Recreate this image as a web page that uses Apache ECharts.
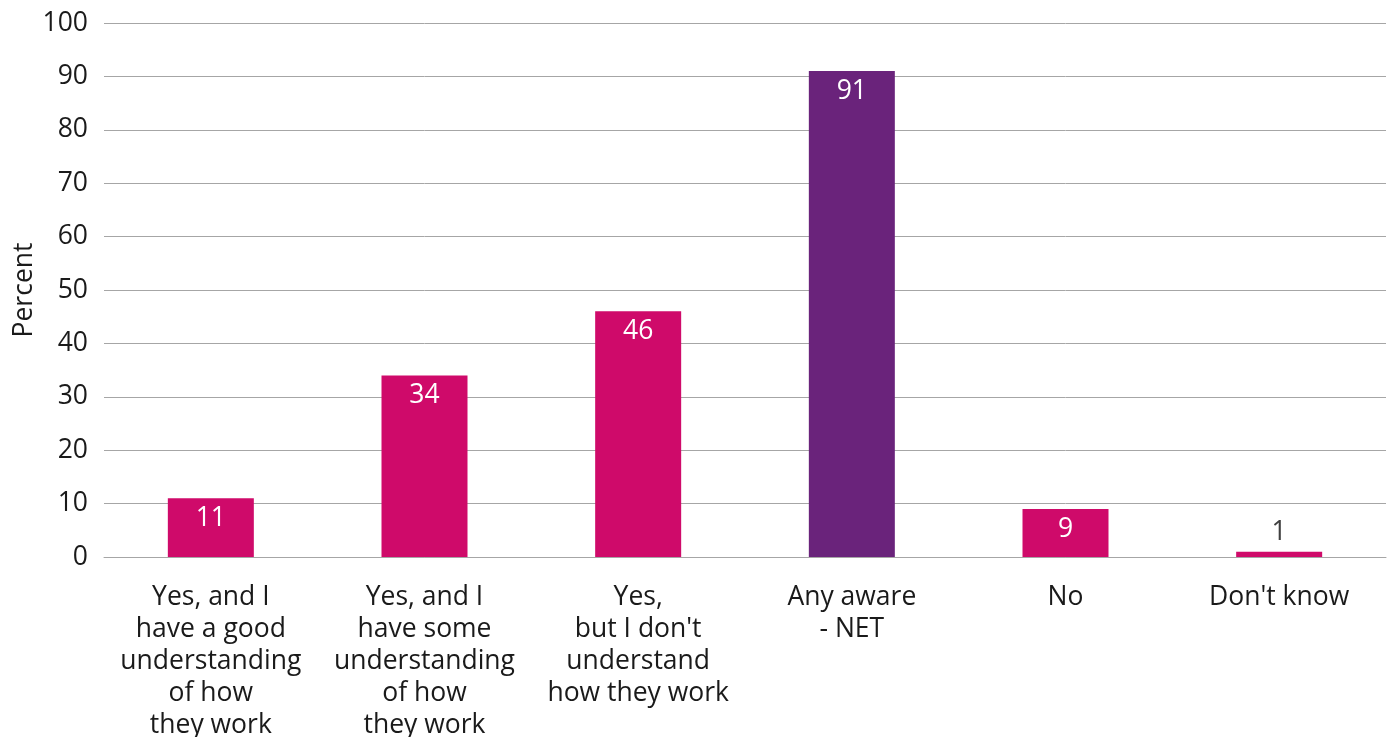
<!DOCTYPE html>
<html><head><meta charset="utf-8">
<script src="https://cdn.jsdelivr.net/npm/echarts@6/dist/echarts.min.js"></script>
<style>html,body{margin:0;padding:0;background:#fff}#c{width:1394px;height:737px}</style>
</head><body><div id="c"></div>
<script>
const categories = ["Yes, and I\nhave a good\nunderstanding\nof how\nthey work","Yes, and I\nhave some\nunderstanding\nof how\nthey work","Yes,\nbut I don't\nunderstand\nhow they work","Any aware\n- NET","No","Don't know"];
const values = [11, 34, 46, 91, 9, 1];
const barColors = ["#CF0A6A","#CF0A6A","#CF0A6A","#6A237B","#CF0A6A","#CF0A6A"];
const yTicks = {min:0, max:100, interval:10};
const FONT = "'Open Sans', 'Noto Sans', sans-serif";
const chart = echarts.init(document.getElementById('c'));
chart.setOption({
  animation:false,
  grid:{left:104,right:8,top:23,bottom:180,containLabel:false,outerBoundsMode:'none'},
  xAxis:{type:'category',data:categories,
    axisLine:{lineStyle:{color:'#a6a6a6',width:1}},axisTick:{show:false},
    axisLabel:{color:'#1a1a1a',fontSize:26.5,fontFamily:FONT,lineHeight:32,margin:24,interval:0}},
  yAxis:{type:'value',min:yTicks.min,max:yTicks.max,interval:yTicks.interval,
    name:'Percent',nameLocation:'middle',nameGap:66,nameRotate:90,nameMoveOverlap:false,
    nameTextStyle:{color:'#1a1a1a',fontSize:26.5,fontFamily:FONT},
    axisLine:{show:false},axisTick:{show:false},
    splitLine:{lineStyle:{color:'#a6a6a6',width:1}},
    axisLabel:{color:'#1a1a1a',fontSize:26.5,fontFamily:FONT,margin:16}},
  series:[{type:'bar',barWidth:86,
    data:values.map((v,i)=>{
      const d={value:v,itemStyle:{color:barColors[i]}};
      if(v<5){d.label={position:'top',color:'#404040',distance:6};}
      return d;}),
    label:{show:true,position:'insideTop',distance:7,color:'#ffffff',fontSize:26.5,fontFamily:FONT}}]
});
</script></body></html>
